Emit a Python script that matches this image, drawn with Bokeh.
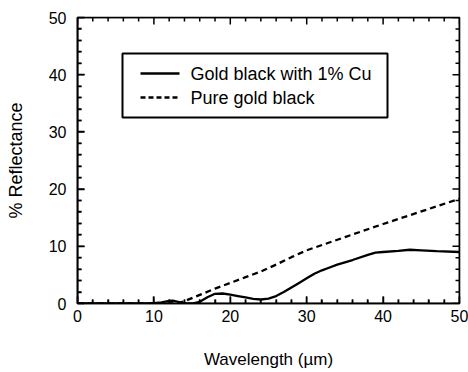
from bokeh.plotting import figure
from bokeh.models import LinearAxis, Range1d, FixedTicker
from bokeh.core.properties import value
from bokeh.embed import file_html
from bokeh.resources import INLINE

# Data
x_cu = [0, 2, 4, 6, 8, 10, 11, 12, 12.5, 13, 14, 15, 16, 17, 18, 19, 20, 21, 22, 23,
        24, 25, 26, 27, 28, 29, 30, 31, 32, 33, 34, 36, 38, 39, 40, 42, 43.5, 45, 47, 50]
y_cu = [0, 0, 0, 0, 0, 0.05, 0.2, 0.45, 0.5, 0.35, 0.05, 0, 0.3, 1.1, 1.7, 1.75, 1.55, 1.3, 1.05, 0.8,
        0.7, 0.85, 1.3, 2.0, 2.8, 3.6, 4.4, 5.2, 5.8, 6.3, 6.8, 7.6, 8.5, 8.9, 9.0, 9.2, 9.4, 9.3, 9.15, 9.0]

x_au = [0, 5, 10, 13, 14, 16, 18, 20, 22, 24, 26, 28, 30, 35, 40, 45, 50]
y_au = [0, 0, 0, 0, 0.4, 1.5, 2.6, 3.6, 4.6, 5.6, 6.8, 8.1, 9.3, 11.6, 13.9, 16.1, 18.3]

label_cu = "Gold black with 1% Cu"
label_au = "Pure gold black"
x_title = "Wavelength (µm)"
y_title = "% Reflectance"
major_ticks = [0, 10, 20, 30, 40, 50]
minor_ticks = [v for v in range(0, 51, 2) if v % 10 != 0]

FONT = "Liberation Sans"
X0, X1, Y0, Y1 = 0, 50, 0, 50
FW, FH = 382, 286
BL, BR, BT, BB = 77, 9, 17, 69

p = figure(frame_width=FW, frame_height=FH, output_backend="svg", toolbar_location=None,
           x_range=Range1d(X0, X1), y_range=Range1d(Y0, Y1),
           min_border_left=BL, min_border_right=BR, min_border_top=BT, min_border_bottom=BB,
           x_axis_location=None, y_axis_location=None)
p.grid.visible = False
p.outline_line_color = "black"
p.outline_line_width = 1.6

xpp = (X1 - X0) / FW
ypp = (Y1 - Y0) / FH


def sx(px):  # page pixel -> data x
    return X0 + (px - BL) * xpp


def sy(py):  # page pixel -> data y
    return Y0 + (BT + FH - py) * ypp


# inward tick marks on all four sides, each side drawn as one comb-shaped polyline
all_ticks = sorted(major_ticks + minor_ticks)
tick_px = {t: (7 if t in major_ticks else 4) for t in all_ticks}
for edge_y, sign in ((Y0, 1), (Y1, -1)):
    cx, cy = [], []
    for t in all_ticks:
        cx += [t, t, t]
        cy += [edge_y, edge_y + sign * tick_px[t] * ypp, edge_y]
    p.line(cx, cy, line_color="black", line_width=1.5)
for edge_x, sign in ((X0, 1), (X1, -1)):
    cx, cy = [], []
    for t in all_ticks:
        cx += [edge_x, edge_x + sign * tick_px[t] * xpp, edge_x]
        cy += [t, t, t]
    p.line(cx, cy, line_color="black", line_width=1.5)

p.line(x_cu, y_cu, line_color="black", line_width=2.3)
p.line(x_au, y_au, line_color="black", line_width=2.3, line_dash="6 4")

# legend drawn by hand
p.quad(left=[sx(122)], right=[sx(387)], top=[sy(53)], bottom=[sy(117)],
       fill_color=None, line_color="black", line_width=2)
row_y = [sy(73), sy(97)]
p.line([sx(140), sx(179)], [row_y[0], row_y[0]], line_color="black", line_width=2.3)
p.line([sx(140), sx(179)], [row_y[1], row_y[1]], line_color="black", line_width=2.3,
       line_dash="5 3")
p.text(x=[sx(190), sx(190)], y=row_y, text=[label_cu, label_au],
       text_font=value(FONT), text_font_size="18px", text_color="black",
       text_baseline="middle", text_align="left")


def make_axis():
    ax = LinearAxis(ticker=FixedTicker(ticks=major_ticks, minor_ticks=minor_ticks))
    ax.major_tick_in = 7
    ax.major_tick_out = 0
    ax.minor_tick_in = 4
    ax.minor_tick_out = 0
    ax.major_tick_line_color = "black"
    ax.minor_tick_line_color = "black"
    ax.major_tick_line_width = 1.5
    ax.minor_tick_line_width = 1.5
    ax.axis_line_color = "black"
    ax.axis_line_width = 1.6
    ax.major_label_text_font = FONT
    ax.major_label_text_font_size = "16px"
    ax.major_label_text_color = "black"
    ax.axis_label_text_font = FONT
    ax.axis_label_text_font_size = "17px"
    ax.axis_label_text_font_style = "normal"
    ax.axis_label_text_color = "black"
    return ax


xb = make_axis()
xb.axis_label = x_title
xb.major_label_standoff = 6
xb.axis_label_standoff = 25
p.add_layout(xb, "below")

yl = make_axis()
yl.axis_label = y_title
yl.major_label_standoff = 11
yl.axis_label_standoff = 20
yl.axis_label_text_font_size = "18px"
p.add_layout(yl, "left")

open("out.html", "w").write(file_html(p, INLINE))
